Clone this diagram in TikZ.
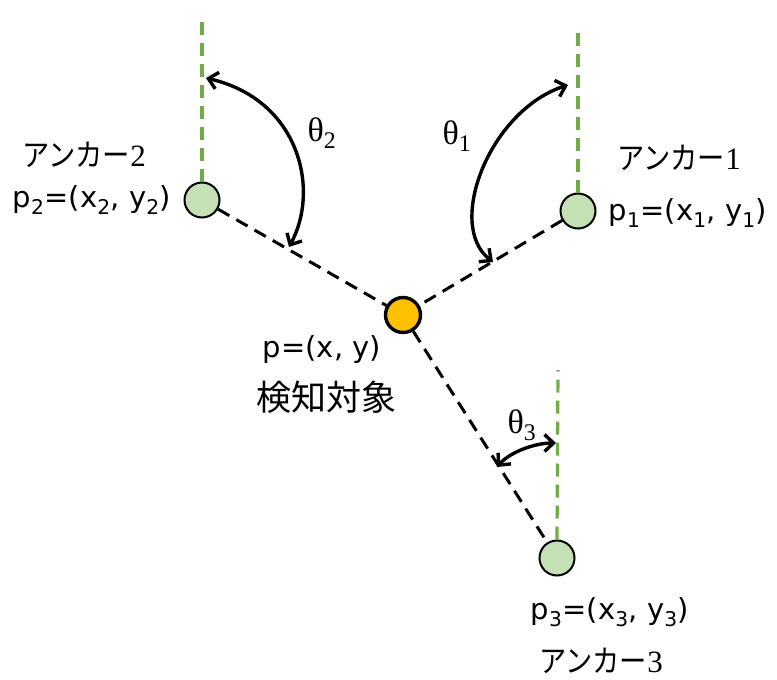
\documentclass[tikz,border=0pt]{standalone}
\usepackage{fontspec}
\setmainfont{DejaVu Sans}
\newfontfamily\jpfont{Noto Sans CJK JP}
\newfontfamily\kanafont{Noto Sans CJK JP}[FakeStretch=0.88]
\newfontfamily\serfont{Liberation Serif}
\usetikzlibrary{arrows.meta}
\definecolor{anchorgreen}{HTML}{C5E0B4}
\definecolor{refgreen}{HTML}{70AD47}
\definecolor{targetorange}{HTML}{FFC000}
\tikzset{
  anchorpt/.style={circle, draw=black, line width=2pt, fill=anchorgreen, minimum size=35pt, inner sep=0pt},
  targetpt/.style={circle, draw=black, line width=3.4pt, fill=targetorange, minimum size=35pt, inner sep=0pt},
  refline/.style={draw=refgreen, line width=3.2pt, dash pattern=on 13pt off 8pt},
  linkline/.style={draw=black, line width=3pt, dash pattern=on 13pt off 8pt},
  angarc/.style={draw=black, line width=3.4pt, {Straight Barb[length=9pt,width=17pt,line width=3.4pt]}-{Straight Barb[length=9pt,width=17pt,line width=3.4pt]}},
  lbl/.style={inner sep=0pt, font=\fontsize{29}{34}\selectfont},
  jplbl/.style={inner sep=0pt, font=\fontsize{31}{36}\selectfont\kanafont},
  kanjilbl/.style={inner sep=0pt, font=\fontsize{35}{40}\selectfont\jpfont},
  thlbl/.style={inner sep=0pt, font=\fontsize{34}{38}\selectfont\serfont},
}
\newcommand{\sbs}[1]{\textsubscript{#1}}
\begin{document}
\begin{tikzpicture}[x=1pt,y=-1pt]
\useasboundingbox (0,0) rectangle (777,680);
% nodes
\node[anchorpt] (a2) at (202,200) {};
\node[anchorpt] (a1) at (578,211) {};
\node[anchorpt] (a3) at (557,558) {};
\node[targetpt] (p) at (403,315) {};
% reference (north) lines
\coordinate (t2) at (202,14);
\coordinate (t1) at (578,33);
\coordinate (t3) at (558,370);
\draw[refline] (a2.north) -- (t2);
\draw[refline] (a1.north) -- (t1);
\draw[refline] (a3.north) -- (t3);
% links
\draw[linkline] (a2) -- (p);
\draw[linkline] (a1) -- (p);
\draw[linkline] (p) -- (a3);
% angle arcs
\coordinate (th2s) at (206,78);
\coordinate (th2e) at (289,247);
\draw[angarc] (th2s) .. controls (300,100) and (320,190) .. (th2e);
\coordinate (th1s) at (568,85);
\coordinate (th1e) at (493,262);
\draw[angarc] (th1s) .. controls (490,110) and (445,225) .. (th1e);
\coordinate (th3s) at (556,443);
\coordinate (th3e) at (497,467);
\draw[angarc] (th3s) .. controls (535,443) and (510,452) .. (th3e);
% labels
\node[thlbl] (L2) at (322,133) {θ\sbs{2}};
\node[thlbl] (L1) at (457,136) {θ\sbs{1}};
\node[thlbl] (L3) at (522,425) {θ\sbs{3}};
\node[jplbl] (n2) at (84,155) {アンカー{\serfont 2}};
\node[jplbl] (n1) at (679,158) {アンカー{\serfont 1}};
\node[jplbl] (n3) at (601,661) {アンカー{\serfont 3}};
\node[lbl] (c2) at (92,200) {p\sbs{2}=(x\sbs{2}, y\sbs{2})};
\node[lbl] (c1) at (688,213) {p\sbs{1}=(x\sbs{1}, y\sbs{1})};
\node[lbl] (c3) at (610,612) {p\sbs{3}=(x\sbs{3}, y\sbs{3})};
\node[lbl] (cp) at (322,350) {p=(x, y)};
\node[kanjilbl] (np) at (326,397) {検知対象};
\end{tikzpicture}
\end{document}
